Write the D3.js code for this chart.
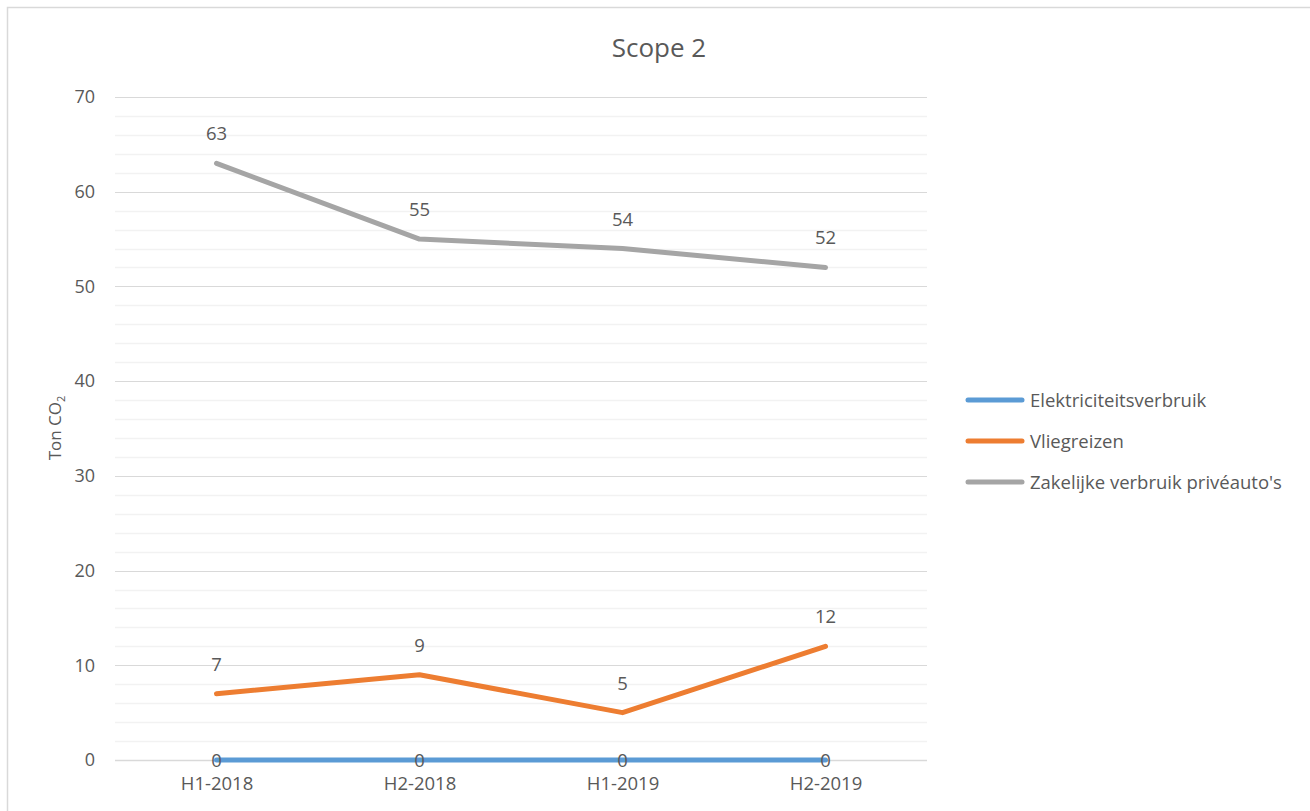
<!DOCTYPE html>
<html>
<head>
<meta charset="utf-8">
<script src="https://cdn.jsdelivr.net/npm/d3@7"></script>
<style>
  html, body { margin: 0; padding: 0; background: #fff; }
  svg { display: block; font-family: "Open Sans", "Noto Sans", sans-serif; }
</style>
</head>
<body>
<svg id="chart" width="1310" height="811"></svg>
<script>
// Chart data
const periods = ["H1-2018", "H2-2018", "H1-2019", "H2-2019"];
const seriesNames = ["Elektriciteitsverbruik", "Vliegreizen", "Zakelijke verbruik privéauto's"];
const elektriciteit = [0, 0, 0, 0];
const vliegreizen = [7, 9, 5, 12];
const priveautos = [63, 55, 54, 52];
const yMajorTicks = [0, 10, 20, 30, 40, 50, 60, 70];
const colors = ["#5B9BD5", "#ED7D31", "#A5A5A5"];

const series = [
  { name: seriesNames[0], values: elektriciteit, color: colors[0], labelCentered: true },
  { name: seriesNames[1], values: vliegreizen, color: colors[1], labelCentered: false },
  { name: seriesNames[2], values: priveautos, color: colors[2], labelCentered: false }
];

const svg = d3.select("#chart");
const textColor = "#595959";
const fontFamily = "'Open Sans', 'Noto Sans', sans-serif";

// Outer chart frame
svg.append("rect")
  .attr("x", 7.5).attr("y", 7.5)
  .attr("width", 1320).attr("height", 820)
  .attr("fill", "none").attr("stroke", "#d9d9d9").attr("stroke-width", 1.5);

const plot = { left: 115, right: 927, top: 97, bottom: 760 };

const x = d3.scalePoint()
  .domain(periods)
  .range([plot.left, plot.right])
  .padding(0.5);

const y = d3.scaleLinear()
  .domain([0, 70])
  .range([plot.bottom, plot.top]);

// Minor gridlines (every 2)
const minorTicks = d3.range(0, 71, 2).filter(v => v % 10 !== 0);
svg.append("g")
  .selectAll("line")
  .data(minorTicks)
  .join("line")
  .attr("x1", plot.left).attr("x2", plot.right)
  .attr("y1", d => Math.round(y(d)) + 0.5).attr("y2", d => Math.round(y(d)) + 0.5)
  .attr("stroke", "#f2f2f2").attr("stroke-width", 1.5);

// Major gridlines
svg.append("g")
  .selectAll("line")
  .data(yMajorTicks)
  .join("line")
  .attr("x1", plot.left).attr("x2", plot.right)
  .attr("y1", d => Math.round(y(d)) + 0.5).attr("y2", d => Math.round(y(d)) + 0.5)
  .attr("stroke", "#d9d9d9").attr("stroke-width", d => d === 0 ? 1.5 : 1.2);

// Y axis labels
const yAxis = d3.axisLeft(y).tickValues(yMajorTicks).tickSize(0).tickPadding(20);
const yg = svg.append("g").attr("transform", `translate(${plot.left},0)`).call(yAxis);
yg.attr("font-size", null).attr("font-family", null);
yg.select(".domain").remove();
yg.selectAll("text")
  .attr("fill", textColor)
  .style("font-size", "18px")
  .style("font-family", fontFamily);

// X axis labels
const xAxis = d3.axisBottom(x).tickSize(0).tickPadding(17);
const xg = svg.append("g").attr("transform", `translate(0,${plot.bottom})`).call(xAxis);
xg.attr("font-size", null).attr("font-family", null);
xg.select(".domain").remove();
xg.selectAll("text")
  .attr("fill", textColor)
  .style("font-size", "18.5px")
  .style("font-family", fontFamily);

// Title
svg.append("text")
  .attr("x", 659).attr("y", 57)
  .attr("text-anchor", "middle")
  .attr("fill", textColor)
  .style("font-size", "26px")
  .text("Scope 2");

// Y axis title
const yt = svg.append("text")
  .attr("transform", "translate(61,428) rotate(-90)")
  .attr("text-anchor", "middle")
  .attr("fill", textColor)
  .style("font-size", "17px");
yt.append("tspan").text("Ton CO");
yt.append("tspan").attr("dy", 4).style("font-size", "11px").text("2");

// Lines
const line = d3.line()
  .x((d, i) => x(periods[i]))
  .y(d => y(d));

svg.append("g")
  .selectAll("path")
  .data(series)
  .join("path")
  .attr("d", s => line(s.values))
  .attr("fill", "none")
  .attr("stroke", s => s.color)
  .attr("stroke-width", 5)
  .attr("stroke-linecap", "round")
  .attr("stroke-linejoin", "round");

// Data labels
series.forEach(s => {
  svg.append("g")
    .selectAll("text")
    .data(s.values)
    .join("text")
    .attr("x", (d, i) => x(periods[i]))
    .attr("y", d => s.labelCentered ? y(d) + 7 : y(d) - 23)
    .attr("text-anchor", "middle")
    .attr("fill", textColor)
    .style("font-size", "18.5px")
    .text(d => d);
});

// Legend
const legend = svg.append("g")
  .selectAll("g")
  .data(series)
  .join("g")
  .attr("transform", (d, i) => `translate(968,${400 + i * 41})`);
legend.append("line")
  .attr("x1", 0).attr("x2", 54)
  .attr("y1", 0).attr("y2", 0)
  .attr("stroke", d => d.color)
  .attr("stroke-width", 5)
  .attr("stroke-linecap", "round");
legend.append("text")
  .attr("x", 62).attr("y", 7)
  .attr("fill", textColor)
  .style("font-size", "18.5px")
  .text(d => d.name);
</script>
</body>
</html>
